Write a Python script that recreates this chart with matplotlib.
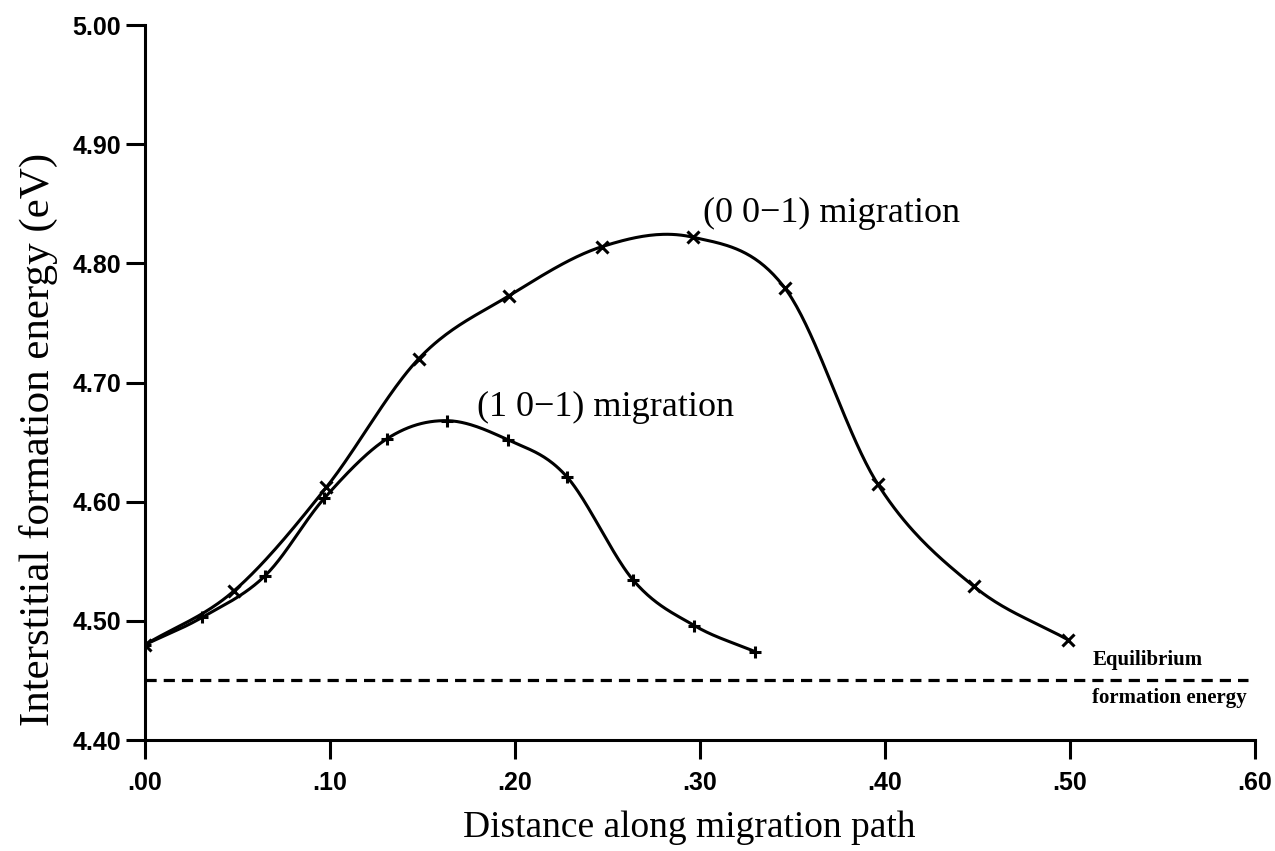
import numpy as np
import matplotlib
matplotlib.use("Agg")
import matplotlib.pyplot as plt
from matplotlib import font_manager as fm

# Migration path energies (eV) vs distance along the path
dist_001 = [0.000, 0.048, 0.098, 0.148, 0.197, 0.247, 0.296, 0.346, 0.396, 0.448, 0.499]
energy_001 = [4.480, 4.525, 4.612, 4.720, 4.773, 4.814, 4.822, 4.779, 4.615, 4.529, 4.484]

dist_101 = [0.000, 0.031, 0.065, 0.097, 0.131, 0.163, 0.196, 0.228, 0.264, 0.297, 0.330]
energy_101 = [4.480, 4.503, 4.538, 4.603, 4.653, 4.668, 4.652, 4.621, 4.534, 4.496, 4.474]

equilibrium_energy = 4.45
equilibrium_span = [0.0, 0.596]

x_ticks = [0.0, 0.1, 0.2, 0.3, 0.4, 0.5, 0.6]
x_tick_labels = [".00", ".10", ".20", ".30", ".40", ".50", ".60"]
y_ticks = [4.40, 4.50, 4.60, 4.70, 4.80, 4.90, 5.00]
y_tick_labels = ["4.40", "4.50", "4.60", "4.70", "4.80", "4.90", "5.00"]


def smooth_path(xs, ys, n=40):
    """Catmull-Rom curve through the given points (for the drawn line only)."""
    pts = np.column_stack([xs, ys])
    p = np.vstack([2 * pts[0] - pts[1], pts, 2 * pts[-1] - pts[-2]])
    t = np.linspace(0, 1, n, endpoint=False)[:, None]
    segs = []
    for i in range(1, len(p) - 2):
        p0, p1, p2, p3 = p[i - 1], p[i], p[i + 1], p[i + 2]
        segs.append(0.5 * (2 * p1 + (-p0 + p2) * t
                           + (2 * p0 - 5 * p1 + 4 * p2 - p3) * t ** 2
                           + (-p0 + 3 * p1 - 3 * p2 + p3) * t ** 3))
    segs.append(pts[-1:])
    out = np.vstack(segs)
    return out[:, 0], out[:, 1]


def narrow_family():
    # prefer a narrow sans for the tick numbers if one is installed
    try:
        fm.findfont(fm.FontProperties(family="Liberation Sans Narrow"),
                    fallback_to_default=False)
        return ["Liberation Sans Narrow", "DejaVu Sans"], 21
    except ValueError:
        return ["Liberation Sans", "DejaVu Sans"], 18


serif = ["Liberation Serif", "DejaVu Serif"]
narrow, tick_size = narrow_family()

fig = plt.figure(figsize=(12.75, 8.51), dpi=100)
ax = fig.add_axes([0.1137, 0.1304, 0.8706, 0.8402])

ink = "black"
for xs, ys, mk in [(dist_001, energy_001, "x"), (dist_101, energy_101, "+")]:
    sx, sy = smooth_path(xs, ys)
    ax.plot(sx, sy, color=ink, lw=2.2, solid_capstyle="round")
    ax.plot(xs, ys, linestyle="none", marker=mk, ms=9, mew=2.2, color=ink)

ax.plot(equilibrium_span, [equilibrium_energy] * 2, color=ink, lw=2.3,
        dashes=(3.5, 2.2))

ax.text(0.3016, 4.842, "(0 0\u22121) migration", fontsize=26, family=serif,
        ha="left", va="center")
ax.text(0.1795, 4.679, "(1 0\u22121) migration", fontsize=26, family=serif,
        ha="left", va="center")
ax.text(0.512, 4.467, "Equilibrium", fontsize=15, family=serif,
        fontweight="bold", ha="left", va="center")
ax.text(0.512, 4.435, "formation energy", fontsize=15, family=serif,
        fontweight="bold", ha="left", va="center")

ax.set_xlim(0, 0.6)
ax.set_ylim(4.40, 5.00)
ax.set_xticks(x_ticks)
ax.set_xticklabels(x_tick_labels, family=narrow, fontsize=tick_size,
                   fontweight="bold")
ax.set_yticks(y_ticks)
ax.set_yticklabels(y_tick_labels, family=narrow, fontsize=tick_size,
                   fontweight="bold")
ax.tick_params(axis="both", direction="out", length=14, width=2.2, color=ink)
ax.tick_params(axis="x", pad=8)
ax.tick_params(axis="y", pad=3)

for side in ["top", "right"]:
    ax.spines[side].set_visible(False)
for side in ["left", "bottom"]:
    ax.spines[side].set_linewidth(2.2)

ax.set_xlabel("Distance along migration path", family=serif, fontsize=27)
ax.xaxis.label.set_va("center")
ax.xaxis.set_label_coords(0.49, -0.123)
ax.set_ylabel("Interstitial formation energy (eV)", family=serif, fontsize=31)
ax.yaxis.label.set_va("center")
ax.yaxis.set_label_coords(-0.096, 0.42)

fig.savefig("out.png", dpi=100, facecolor="white")
plt.close(fig)
